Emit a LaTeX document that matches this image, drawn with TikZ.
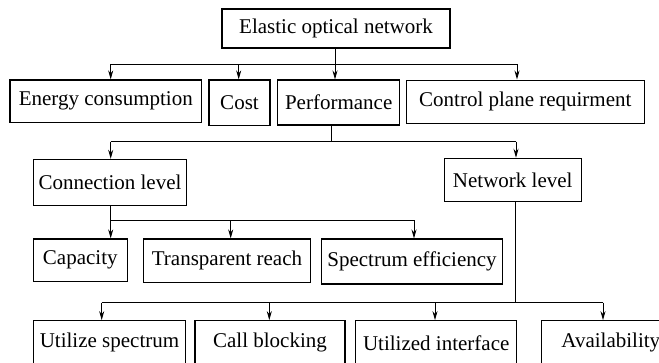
\documentclass[tikz,border=0pt]{standalone}
\usepackage{fontspec}
\setmainfont{Liberation Serif}
\usetikzlibrary{arrows.meta,calc}
\begin{document}
\begin{tikzpicture}[x=1pt,y=-1pt,
  box/.style={draw, line width=1.1pt, inner sep=0pt, font=\fontsize{21}{25}\selectfont},
  link/.style={line width=0.9pt},
  arr/.style={link,-{Stealth[length=9pt,width=5pt]}}]
\useasboundingbox (0,0) rectangle (659,362);
% row 1
\node[box, minimum width=228pt, minimum height=39pt] (top) at (336,28.5) {Elastic optical network};
% row 2
\node[box, minimum width=191.7pt, minimum height=42.7pt] (en) at (105.8,101.3) {Energy consumption};
\node[box, minimum width=61pt, minimum height=45.7pt] (cost) at (239.5,102.8) {Cost};
\node[box, minimum width=122pt, minimum height=45pt] (perf) at (338.7,102.5) {Performance};
\node[box, minimum width=238pt, minimum height=43.3pt] (ctrl) at (525.3,101.7) {Control plane requirment};
% row 3
\node[box, minimum width=153.4pt, minimum height=45.7pt] (conn) at (110,182.2) {Connection level};
\node[box, minimum width=137.3pt, minimum height=43.4pt] (net) at (512.7,180) {Network level};
% row 4
\node[box, minimum width=94pt, minimum height=42.7pt] (cap) at (80.3,260.3) {Capacity};
\node[box, minimum width=167.4pt, minimum height=43.7pt] (tr) at (227,260.8) {Transparent reach};
\node[box, minimum width=180.6pt, minimum height=45pt] (se) at (412,261.5) {Spectrum efficiency};
% row 5
\node[box, minimum width=152.4pt, minimum height=44.3pt] (us) at (109.5,342.85) {Utilize spectrum};
\node[box, minimum width=150pt, minimum height=44.3pt] (cb) at (270,342.85) {Call blocking};
\node[box, minimum width=161pt, minimum height=44.3pt] (ui) at (436.2,342.85) {Utilized interface};
\node[box, minimum width=138.3pt, minimum height=44.3pt] (av) at (610.8,342.85) {Availability};
% junction coordinates
\coordinate (j1) at (335,64);
\coordinate (j2) at (331,141.7);
\coordinate (j3) at (110.7,220);
\coordinate (j4) at (515,302.7);
% bus 1
\draw[link] ([xshift=-1pt]top.south) -- (j1);
\draw[link] ([xshift=4.9pt]en.north |- j1) -- ([xshift=-8.3pt]ctrl.north |- j1);
\draw[arr] ([xshift=4.9pt]en.north |- j1) -- ([xshift=4.9pt]en.north);
\draw[arr] ([xshift=-0.8pt]cost.north |- j1) -- ([xshift=-0.8pt]cost.north);
\draw[arr] (j1) -- ([xshift=-3.7pt]perf.north);
\draw[arr] ([xshift=-8.3pt]ctrl.north |- j1) -- ([xshift=-8.3pt]ctrl.north);
% bus 2
\draw[link] ([xshift=-7.7pt]perf.south) -- (j2);
\draw[link] ([xshift=0.7pt]conn.north |- j2) -- ([xshift=3.3pt]net.north |- j2);
\draw[arr] ([xshift=0.7pt]conn.north |- j2) -- ([xshift=0.7pt]conn.north);
\draw[arr] ([xshift=3.3pt]net.north |- j2) -- ([xshift=3.3pt]net.north);
% bus 3
\draw[link] ([xshift=0.7pt]conn.south) -- (j3);
\draw[link] (j3) -- ([xshift=2pt]se.north |- j3);
\draw[arr] (j3) -- ([xshift=30.4pt]cap.north);
\draw[arr] ([xshift=3.7pt]tr.north |- j3) -- ([xshift=3.7pt]tr.north);
\draw[arr] ([xshift=2pt]se.north |- j3) -- ([xshift=2pt]se.north);
% bus 4
\draw[link] ([xshift=2.3pt]net.south) -- (j4);
\draw[link] ([xshift=-7.8pt]us.north |- j4) -- ([xshift=-7.8pt]av.north |- j4);
\draw[arr] ([xshift=-7.8pt]us.north |- j4) -- ([xshift=-7.8pt]us.north);
\draw[arr] ([xshift=-0.7pt]cb.north |- j4) -- ([xshift=-0.7pt]cb.north);
\draw[arr] ([xshift=-1.2pt]ui.north |- j4) -- ([xshift=-1.2pt]ui.north);
\draw[arr] ([xshift=-7.8pt]av.north |- j4) -- ([xshift=-7.8pt]av.north);
\end{tikzpicture}
\end{document}
